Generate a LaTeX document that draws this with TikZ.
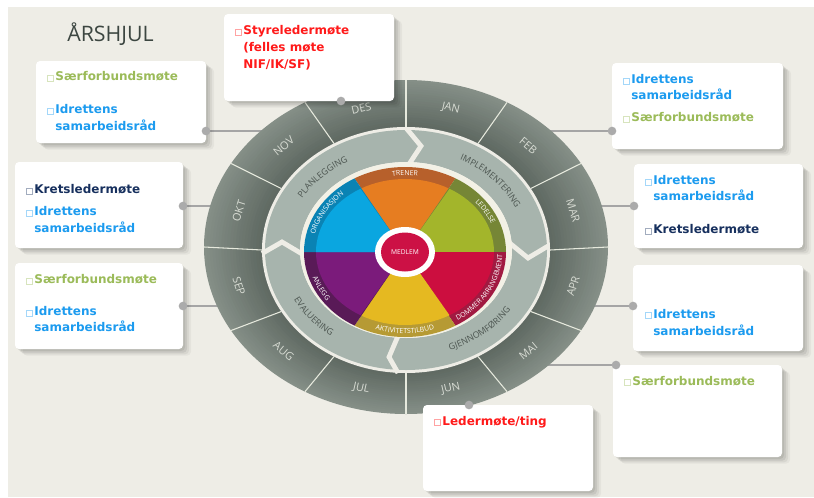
\documentclass[tikz,border=0pt]{standalone}
\usepackage{fontspec}
\setmainfont{DejaVu Sans}
\newfontfamily\wfont{Open Sans}
\usetikzlibrary{decorations.text,fit,calc,shadows}
\definecolor{bg}{HTML}{EEEDE6}
\definecolor{ringOut}{HTML}{858F87}
\definecolor{ringIn}{HTML}{5F6962}
\definecolor{sepc}{HTML}{E6E9DD}
\definecolor{monthc}{HTML}{D8DCD4}
\definecolor{bandc}{HTML}{A7B4AD}
\definecolor{bandtxt}{HTML}{4C5550}
\definecolor{creamc}{HTML}{F3F1E6}
\definecolor{orA}{HTML}{E67D21}\definecolor{orB}{HTML}{B7602B}
\definecolor{grA}{HTML}{A3B52B}\definecolor{grB}{HTML}{768636}
\definecolor{reA}{HTML}{CC0E3F}\definecolor{reB}{HTML}{A11A41}
\definecolor{yeA}{HTML}{E5B921}\definecolor{yeB}{HTML}{B69A34}
\definecolor{puA}{HTML}{7B1B7B}\definecolor{puB}{HTML}{591A57}
\definecolor{blA}{HTML}{0AA6E0}\definecolor{blB}{HTML}{0A83B4}
\definecolor{medred}{HTML}{CC1145}
\definecolor{titlec}{HTML}{3C4641}
\definecolor{cblue}{HTML}{1C9BEF}
\definecolor{cgreen}{HTML}{9BBB59}
\definecolor{cnavy}{HTML}{17305E}
\definecolor{cred}{HTML}{FF1A1A}
\definecolor{dotc}{HTML}{ABABAB}
\definecolor{linec}{HTML}{A5A5A5}
\newcommand\sq[1]{{\color{#1!40}\fboxsep=0pt\fboxrule=0.45pt\fbox{\vrule width 0pt height 4pt\hspace{4pt}}}\hspace{1.2pt}}
\newcommand\bxfont{\fontsize{9}{11}\selectfont\bfseries}
\begin{document}
\begin{tikzpicture}[x=0.75pt,y=-0.75pt,
  box/.style={rectangle, rounded corners=3pt, fill=white, inner sep=0pt,
    drop shadow={shadow xshift=1.5pt,shadow yshift=-1.5pt,fill=black,opacity=0.07},
    drop shadow={shadow xshift=3pt,shadow yshift=-2.8pt,fill=black,opacity=0.07},
    drop shadow={shadow xshift=4.5pt,shadow yshift=-4pt,fill=black,opacity=0.06},
    drop shadow={shadow xshift=6pt,shadow yshift=-5pt,fill=black,opacity=0.04}},
  itm/.style={anchor=base west, inner sep=0pt, font=\bxfont},
  dot/.style={circle, fill=dotc, inner sep=0pt, minimum size=6.5pt},
  conn/.style={draw=linec, line width=1.5pt},
  monthlab/.style={font=\wfont\fontsize{8.2}{9}\selectfont, text=monthc, inner sep=0pt},
  chev/.style={draw=bg, line width=3.6pt, miter limit=10},
  bandlab/.style={decorate, decoration={text along path, text align=center, text color=bandtxt, text={|\wfont\fontsize{6.6}{7}\selectfont|#1}}},
  pielab/.style={decorate, decoration={text along path, text align=center, text color=white, text={|\wfont\fontsize{5.2}{6}\selectfont|#1}}}
]
\useasboundingbox (0,0) rectangle (814,497);
\fill[white] (0,0) rectangle (814,497);
\fill[bg] (8,7) rectangle (814,497);

% title
\node[anchor=base west, inner sep=0pt, font=\wfont\fontsize{16}{19}\selectfont, text=titlec] (title) at (67,41) {ÅRSHJUL};

% connector anchor points
\coordinate (p2) at (206,131); \coordinate (e2) at (300,131);
\coordinate (p3) at (183,206); \coordinate (e3) at (262,206);
\coordinate (p4) at (183,306); \coordinate (e4) at (262,306);
\coordinate (p5) at (612,131); \coordinate (e5) at (520,131);
\coordinate (p6) at (634,206); \coordinate (e6) at (575,206);
\coordinate (p7) at (633,306); \coordinate (e7) at (575,306);
\coordinate (p8) at (616,365); \coordinate (e8) at (540,365);
\foreach \i in {2,...,8} \draw[conn] (p\i) -- (e\i);

% wheel
\begin{scope}[shift={(406,250)},x=0.75pt,y=0.75pt]
  \foreach \k [evaluate=\k as \rx using 202-2.9*\k,
               evaluate=\k as \ry using 167-2.2*\k,
               evaluate=\k as \cy using 3-0.15*\k,
               evaluate=\k as \pc using int(5.2*\k)] in {0,...,19}
    \fill[ringIn!\pc!ringOut] (0,\cy) ellipse [x radius=\rx, y radius=\ry];
  \fill[bg] (0,0) ellipse [x radius=144, y radius=123];
  \foreach \a in {0,30,...,330}
    \draw[sepc, line width=0.8pt] (\a:144 and 123) -- ($(0,3)+(\a:202 and 167)$);
  \foreach \m/\t/\r in {JAN/75/-12.6, FEB/45/-39.8, MAR/15/-72.2, APR/-15/72.2, MAI/-45/39.8, JUN/-75/12.6, JUL/-105/-12.6, AUG/-135/-39.8, SEP/-165/-72.2, OKT/165/72.2, NOV/135/39.8, DES/105/12.6}
    \node[monthlab, rotate=\r] (m\m) at ($(0,1.5)+(\t:173 and 145)$) {\m};
  % process band
  \fill[bandc, even odd rule] (0,0) ellipse [x radius=141, y radius=120] (0,0) ellipse [x radius=106, y radius=88];
  \draw[chev] (0.5,121.5) -- (15,104) -- (3.5,86.5);
  \draw[chev] (103,7.5) -- (122,-8) -- (143,4.5);
  \draw[chev] (-8,-86) -- (-17,-107) -- (-8,-123);
  \draw[chev] (-144,-3.5) -- (-124,8) -- (-103,-4.5);
  \path[bandlab=PLANLEGGING] (165:120.5 and 101) arc[start angle=165,end angle=105,x radius=120.5,y radius=101];
  \path[bandlab=IMPLEMENTERING] (82:120.5 and 101) arc[start angle=82,end angle=3,x radius=120.5,y radius=101];
  \path[bandlab=GJENNOMFØRING] (265:126.5 and 107) arc[start angle=265,end angle=355,x radius=126.5,y radius=107];
  \path[bandlab=EVALUERING] (180:126.5 and 107) arc[start angle=180,end angle=258,x radius=126.5,y radius=107];
  \fill[creamc] (0,0) ellipse [x radius=106, y radius=88];
  % pie
  \begin{scope}[shift={(-1,-2)}]
    \foreach \s/\e/\ca/\cb in {60/120/orA/orB, 0/60/grA/grB, -60/0/reA/reB, -120/-60/yeA/yeB, -180/-120/puA/puB, 120/180/blA/blB} {
      \fill[\cb] (0,0) -- (\s:101 and 85) arc[start angle=\s, end angle=\e, x radius=101, y radius=85] -- cycle;
      \fill[\ca] (0,0) -- (\s:89 and 73) arc[start angle=\s, end angle=\e, x radius=89, y radius=73] -- cycle;
    }
    \path[pielab=TRENER] (110:92.5 and 76.5) arc[start angle=110,end angle=70,x radius=92.5,y radius=76.5];
    \path[pielab=ORGANISASJON] (180:92.5 and 76.5) arc[start angle=180,end angle=120,x radius=92.5,y radius=76.5];
    \path[pielab=LEDELSE] (58:92.5 and 76.5) arc[start angle=58,end angle=2,x radius=92.5,y radius=76.5];
    \path[pielab=DOMMER ARRANGEMENT] (296:97.5 and 81.5) arc[start angle=296,end angle=366,x radius=97.5,y radius=81.5];
    \path[pielab=AKTIVITETSTILBUD] (240:97.5 and 81.5) arc[start angle=240,end angle=300,x radius=97.5,y radius=81.5];
    \path[pielab=ANLEGG] (182:97.5 and 81.5) arc[start angle=182,end angle=232,x radius=97.5,y radius=81.5];
    \fill[white] (0,0) ellipse [x radius=30, y radius=25];
    \fill[medred] (0,0) ellipse [x radius=24, y radius=19.5];
    \node[font=\wfont\fontsize{5}{6}\selectfont, text=white, inner sep=0pt] (medlem) at (0,0) {MEDLEM};
  \end{scope}
\end{scope}

% boxes
\node[box, fit={(224,14) (394,101)}] (b1) {};
\node[box, fit={(36,61) (206,143)}] (b2) {};
\node[box, fit={(15,162) (183,248)}] (b3) {};
\node[box, fit={(15,263) (183,349)}] (b4) {};
\node[box, fit={(612,63) (783,149)}] (b5) {};
\node[box, fit={(634,164) (803,248)}] (b6) {};
\node[box, fit={(633,265) (803,351)}] (b7) {};
\node[box, fit={(613,365) (782,457)}] (b8) {};
\node[box, fit={(423,405) (593,491)}] (b9) {};

\node[itm, text=cred] (t1a) at (235,34.5) {\sq{cred}Styreledermøte};
\node[itm, text=cred] (t1b) at (243,51.5) {(felles møte};
\node[itm, text=cred] (t1c) at (243,68.5) {NIF/IK/SF)};

\node[itm, text=cgreen] (t2a) at (47,80.5) {\sq{cgreen}Særforbundsmøte};
\node[itm, text=cblue] (t2b) at (47,113.5) {\sq{cblue}Idrettens};
\node[itm, text=cblue] (t2c) at (55,130.5) {samarbeidsråd};

\node[itm, text=cnavy] (t3a) at (26,193.5) {\sq{cnavy}Kretsledermøte};
\node[itm, text=cblue] (t3b) at (26,215.5) {\sq{cblue}Idrettens};
\node[itm, text=cblue] (t3c) at (34,232.5) {samarbeidsråd};

\node[itm, text=cgreen] (t4a) at (26,283.5) {\sq{cgreen}Særforbundsmøte};
\node[itm, text=cblue] (t4b) at (26,315.5) {\sq{cblue}Idrettens};
\node[itm, text=cblue] (t4c) at (34,331.5) {samarbeidsråd};

\node[itm, text=cblue] (t5a) at (623,83.5) {\sq{cblue}Idrettens};
\node[itm, text=cblue] (t5b) at (631,99.5) {samarbeidsråd};
\node[itm, text=cgreen] (t5c) at (623,121.5) {\sq{cgreen}Særforbundsmøte};

\node[itm, text=cblue] (t6a) at (645,184.5) {\sq{cblue}Idrettens};
\node[itm, text=cblue] (t6b) at (653,200.5) {samarbeidsråd};
\node[itm, text=cnavy] (t6c) at (645,233.5) {\sq{cnavy}Kretsledermøte};

\node[itm, text=cblue] (t7a) at (645,318) {\sq{cblue}Idrettens};
\node[itm, text=cblue] (t7b) at (653,335) {samarbeidsråd};

\node[itm, text=cgreen] (t8a) at (624,385) {\sq{cgreen}Særforbundsmøte};

\node[itm, text=cred] (t9a) at (434,425) {\sq{cred}Ledermøte/ting};

% dots
\node[dot] (d1) at (341,101) {};
\foreach \i in {2,...,8} \node[dot] (d\i) at (p\i) {};
\node[dot] (d9) at (469,405) {};
\end{tikzpicture}
\end{document}
